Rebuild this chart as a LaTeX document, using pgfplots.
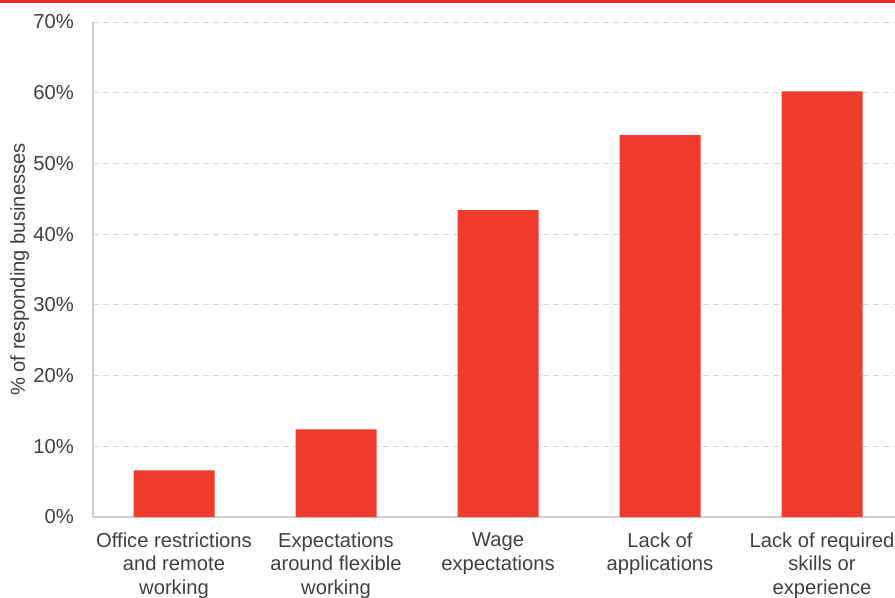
\documentclass[border=0pt]{standalone}
\usepackage{pgfplots}
\pgfplotsset{compat=1.18}
\usepackage{fontspec}
\setmainfont{Liberation Sans}
\definecolor{barred}{HTML}{EF3B2C}
\definecolor{topred}{HTML}{E8282B}
\definecolor{txt}{HTML}{404040}
\definecolor{axgray}{HTML}{D0D0D0}
\definecolor{gridgray}{HTML}{D6D6D6}
\begin{document}
\begin{tikzpicture}
\useasboundingbox (0,0) rectangle (895bp,598bp);
\fill[topred] (0,595.3bp) rectangle (895bp,598bp);
\begin{axis}[
  at={(93bp,81bp)}, anchor=south west,
  scale only axis, width=810bp, height=495bp,
  xmin=-0.5, xmax=4.5, ymin=0, ymax=70,
  axis x line*=bottom, axis y line*=left,
  axis line style={draw=axgray, line width=1.3bp, -},
  ytick={0,10,...,70},
  yticklabel={\pgfmathprintnumber{\tick}\%},
  major tick length=0pt,
  ymajorgrids,
  y grid style={gridgray, dashed, line width=0.9bp, dash pattern=on 6bp off 4bp},
  xtick=data,
  xticklabels={{Office restrictions\\and remote\\working},{Expectations\\around flexible\\working},{Wage\\expectations},{Lack of\\applications},{Lack of required\\skills or\\experience}},
  tick label style={font=\fontsize{20.2bp}{23.6bp}\selectfont, text=txt},
  yticklabel style={anchor=east, inner sep=0pt, xshift=-19bp},
  xticklabel style={anchor=north, inner sep=0pt, yshift=-15.5bp, align=center},
  /pgf/number format/assume math mode=true,
  ylabel={\% of responding businesses},
  every axis y label/.style={at={(axis description cs:-0.08395,0.5)}, anchor=base, rotate=90, font=\fontsize{20.2bp}{23.6bp}\selectfont, text=txt},
  ybar, bar width=81bp,
  clip=false,
]
\addplot[fill=barred, draw=none] coordinates {(0,6.6) (1,12.4) (2,43.4) (3,54.0) (4,60.2)};
\end{axis}
\end{tikzpicture}
\end{document}
